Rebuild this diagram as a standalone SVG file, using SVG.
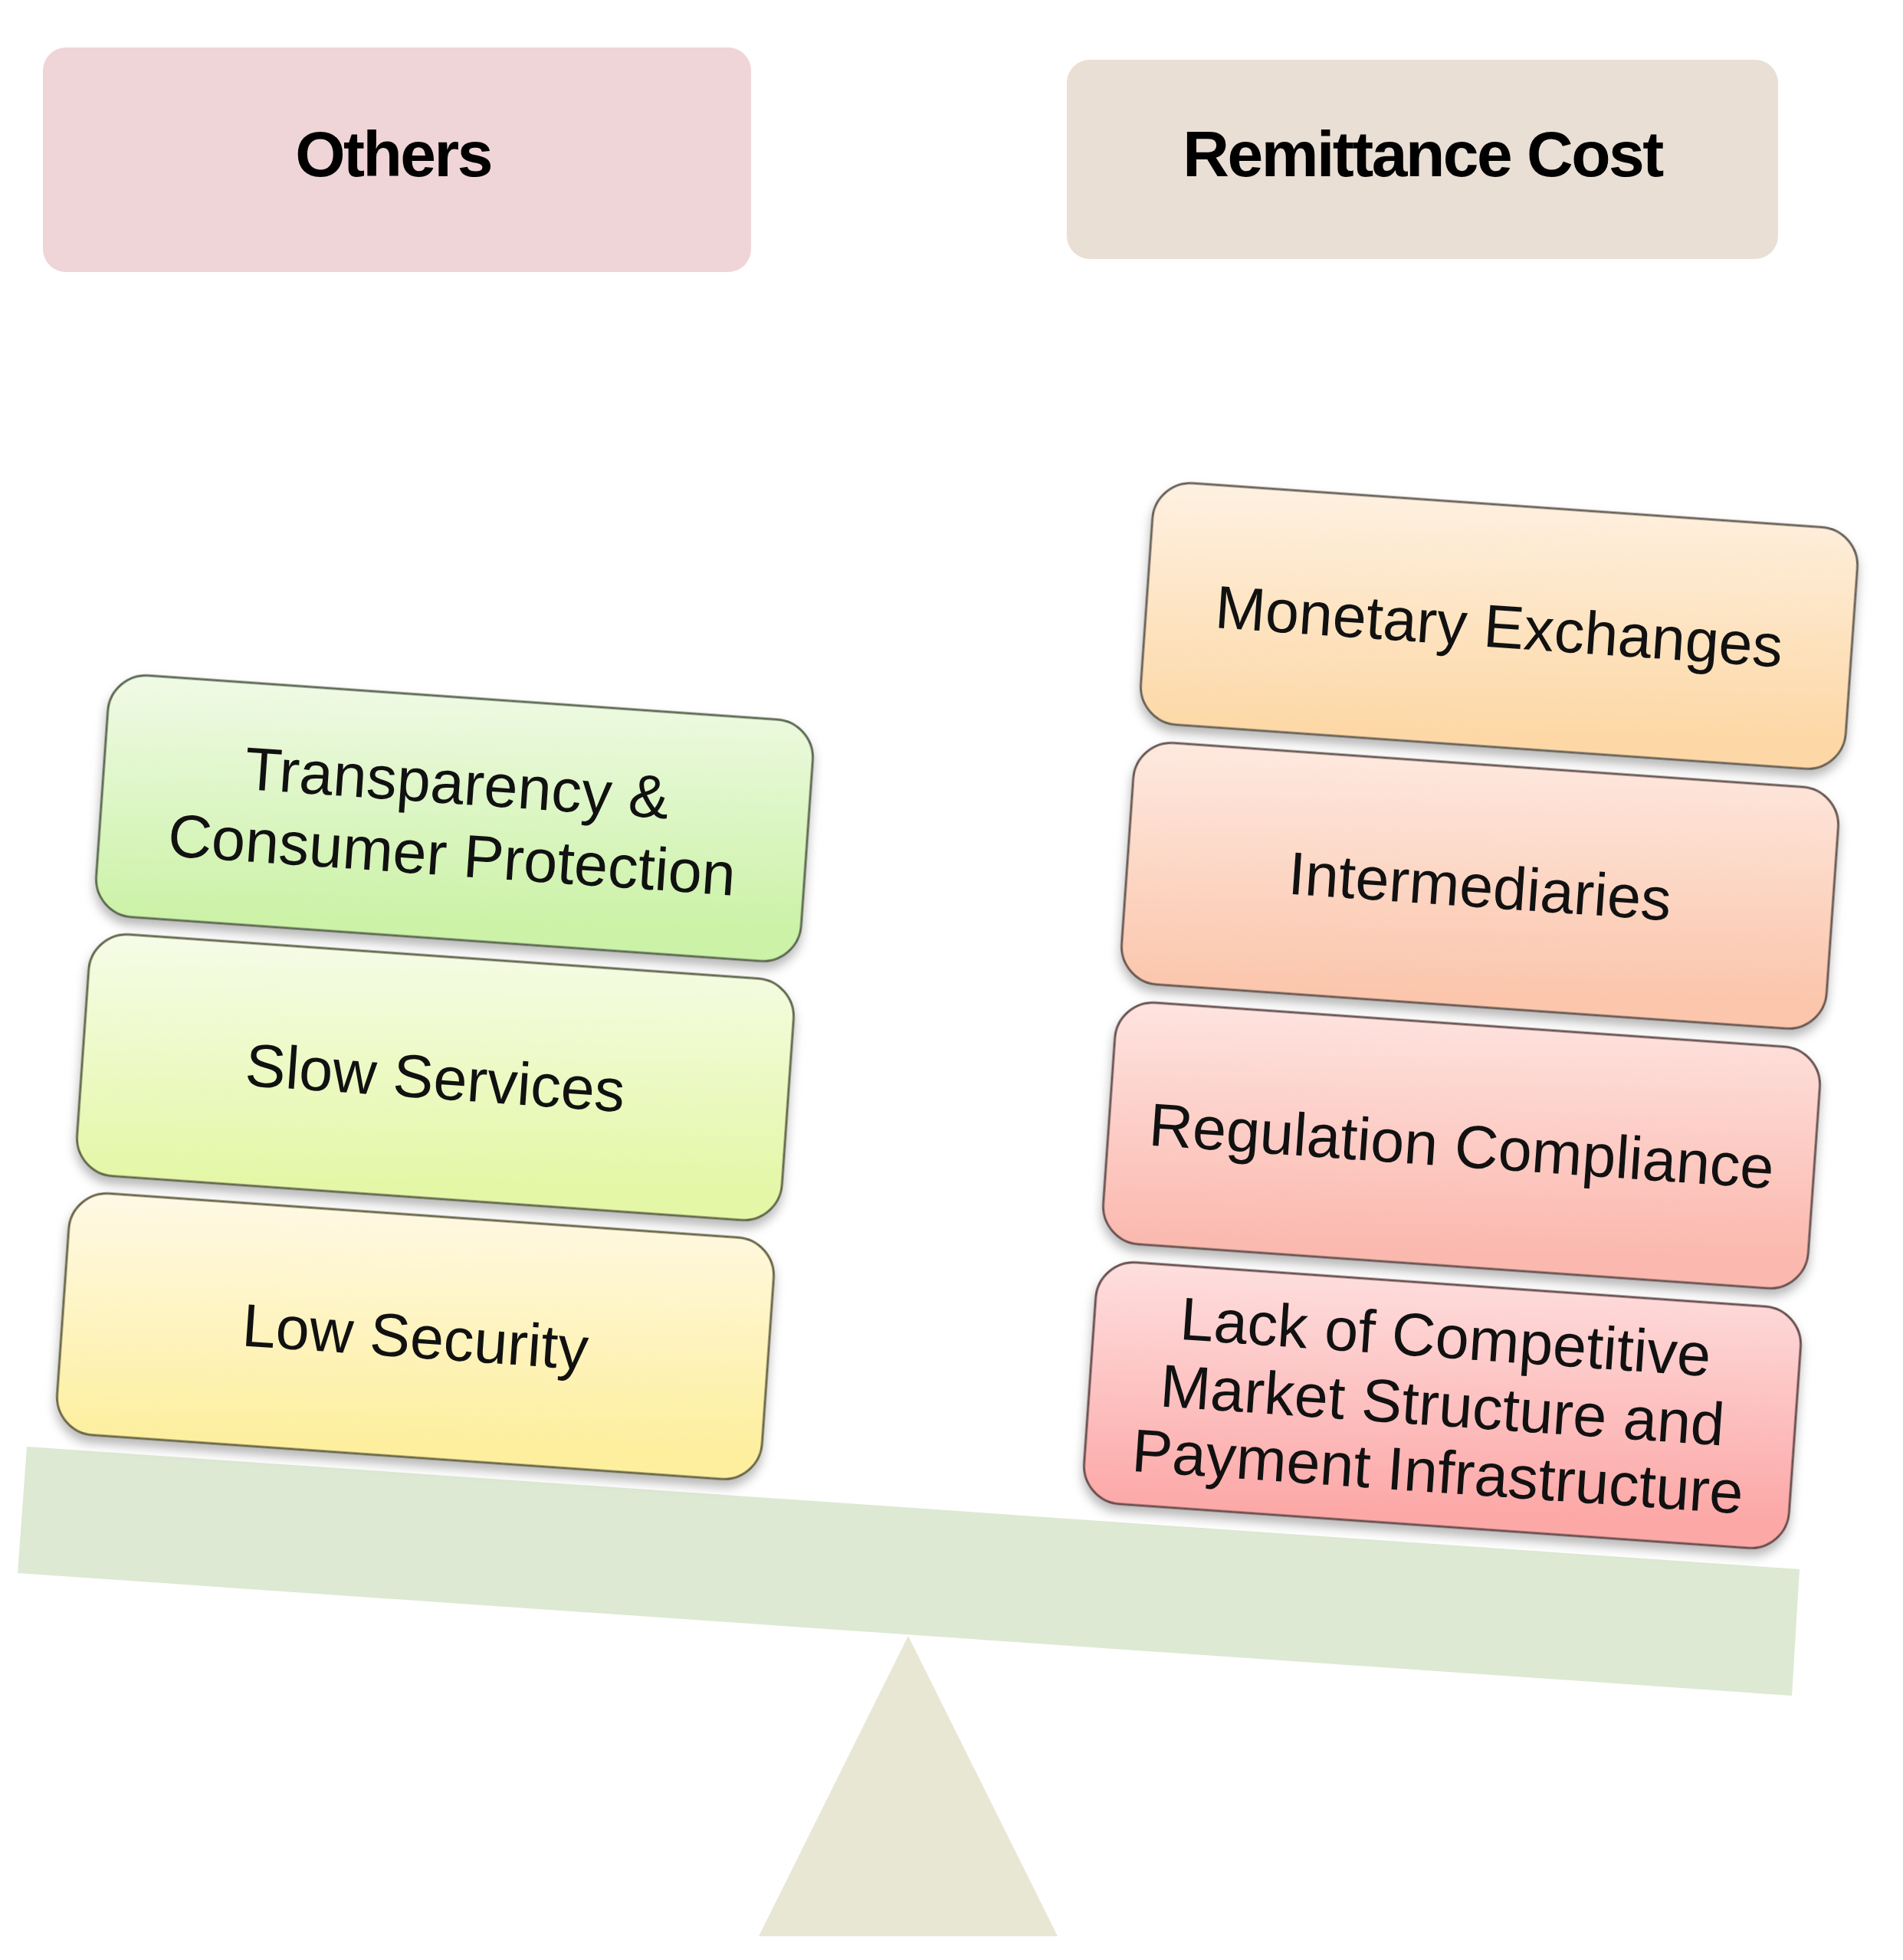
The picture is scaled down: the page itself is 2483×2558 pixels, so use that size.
<svg xmlns="http://www.w3.org/2000/svg" width="2483" height="2558" viewBox="0 0 2483 2558">
  <style>
    .hdr { font-family: "Liberation Sans", Arial, sans-serif; font-weight: bold; font-size: 84px; letter-spacing: -2.5px; fill: #000; text-anchor: middle; }
    .lbl { font-family: "Liberation Sans", Arial, sans-serif; font-size: 79px; fill: #111; text-anchor: middle; }
    .box { stroke-width: 3; filter: url(#shadow); }
  </style>
  <defs>
    <filter id="shadow" x="-10%" y="-20%" width="120%" height="150%">
      <feDropShadow dx="0" dy="9" stdDeviation="7" flood-color="#000" flood-opacity="0.28"/>
    </filter>
    <linearGradient id="gT" x1="0" y1="0" x2="0.15" y2="1"><stop offset="0" stop-color="#F0FAE6"/><stop offset="1" stop-color="#CBF2A6"/></linearGradient>
    <linearGradient id="gS" x1="0" y1="0" x2="0.15" y2="1"><stop offset="0" stop-color="#F6FCE8"/><stop offset="1" stop-color="#E4F7A6"/></linearGradient>
    <linearGradient id="gL" x1="0" y1="0" x2="0.15" y2="1"><stop offset="0" stop-color="#FFF9E6"/><stop offset="1" stop-color="#FDEF9E"/></linearGradient>
    <linearGradient id="gM" x1="0" y1="0" x2="0.15" y2="1"><stop offset="0" stop-color="#FEF1E2"/><stop offset="1" stop-color="#FDD8A6"/></linearGradient>
    <linearGradient id="gI" x1="0" y1="0" x2="0.15" y2="1"><stop offset="0" stop-color="#FEE9E0"/><stop offset="1" stop-color="#FBC6AC"/></linearGradient>
    <linearGradient id="gR" x1="0" y1="0" x2="0.15" y2="1"><stop offset="0" stop-color="#FEE4E0"/><stop offset="1" stop-color="#FBB8AE"/></linearGradient>
    <linearGradient id="gK" x1="0" y1="0" x2="0.15" y2="1"><stop offset="0" stop-color="#FEDFDF"/><stop offset="1" stop-color="#FCA8A7"/></linearGradient>
  </defs>

  <rect width="2483" height="2558" fill="#FFFFFF"/>

  <!-- headers -->
  <g id="others">
    <rect x="56" y="62" width="924" height="293" rx="30" fill="#EFD5D7"/>
    <text class="hdr" x="513" y="230">Others</text>
  </g>
  <g id="remittance-cost">
    <rect x="1392" y="78" width="928" height="260" rx="30" fill="#EADFD5"/>
    <text class="hdr" x="1856" y="230">Remittance Cost</text>
  </g>

  <!-- scale -->
  <g id="scale">
    <polygon id="fulcrum" points="1185,2135 1380,2527 990,2527" fill="#E7E7D3"/>
    <polygon id="beam" points="35,1888 2348,2048 2338,2213 23,2053" fill="#DDE9D3"/>
  </g>

  <!-- left stack -->
  <g id="transparency" transform="translate(593,1068) rotate(4)">
    <rect class="box" x="-461" y="-158" width="922" height="316" rx="50" fill="url(#gT)" stroke="#5E6B55"/>
    <text class="lbl" x="0" y="-19">Transparency &amp;</text>
    <text class="lbl" x="0" y="75">Consumer Protection</text>
  </g>
  <g id="slow-services" transform="translate(568,1406) rotate(4)">
    <rect class="box" x="-461" y="-158" width="922" height="316" rx="50" fill="url(#gS)" stroke="#65694F"/>
    <text class="lbl" x="0" y="28">Slow Services</text>
  </g>
  <g id="low-security" transform="translate(542,1744) rotate(4)">
    <rect class="box" x="-461" y="-158" width="922" height="316" rx="50" fill="url(#gL)" stroke="#6B674A"/>
    <text class="lbl" x="0" y="28">Low Security</text>
  </g>

  <!-- right stack -->
  <g id="monetary-exchanges" transform="translate(1956,817) rotate(4)">
    <rect class="box" x="-461" y="-158" width="922" height="316" rx="50" fill="url(#gM)" stroke="#6B635A"/>
    <text class="lbl" x="0" y="28">Monetary Exchanges</text>
  </g>
  <g id="intermediaries" transform="translate(1931,1156) rotate(4)">
    <rect class="box" x="-461" y="-158" width="922" height="316" rx="50" fill="url(#gI)" stroke="#6B5A55"/>
    <text class="lbl" x="0" y="28">Intermediaries</text>
  </g>
  <g id="regulation-compliance" transform="translate(1907,1495) rotate(4)">
    <rect class="box" x="-461" y="-158" width="922" height="316" rx="50" fill="url(#gR)" stroke="#6B5553"/>
    <text class="lbl" x="0" y="28">Regulation Compliance</text>
  </g>
  <g id="lack-of-competitive" transform="translate(1882,1834) rotate(4)">
    <rect class="box" x="-461" y="-158" width="922" height="316" rx="50" fill="url(#gK)" stroke="#6B4F4F"/>
    <text class="lbl" x="-2" y="-62">Lack of Competitive</text>
    <text class="lbl" x="0" y="27">Market Structure and</text>
    <text class="lbl" x="0" y="114">Payment Infrastructure</text>
  </g>

  <g id="connectors"/>
</svg>
